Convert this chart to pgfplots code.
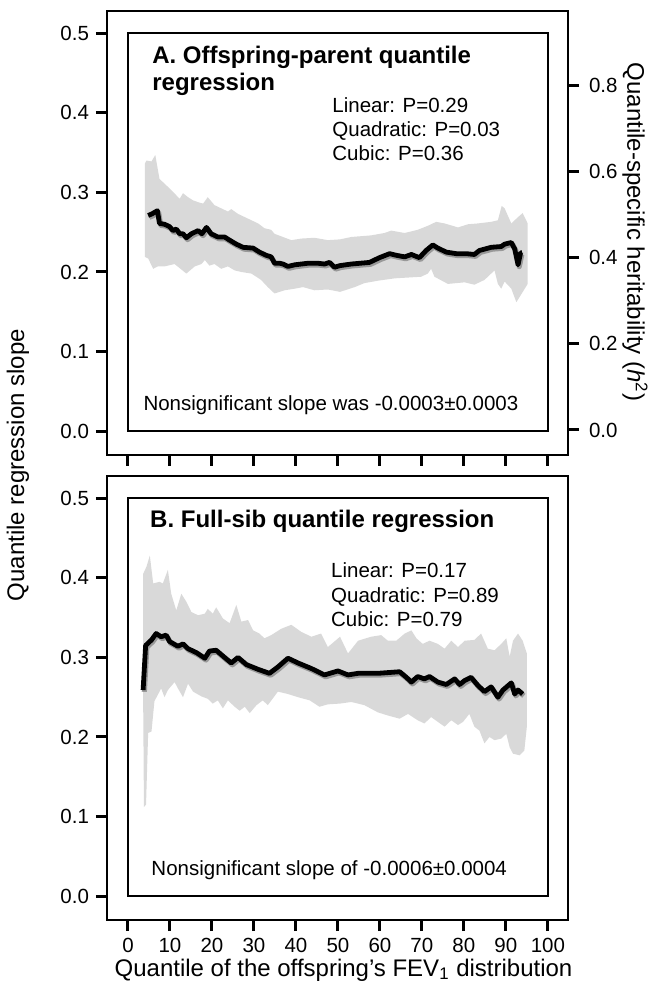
\documentclass[border=0pt]{standalone}
\usepackage{fontspec}
\setmainfont{Liberation Sans}
\usepackage{pgfplots}
\pgfplotsset{compat=1.18}
\usepgfplotslibrary{fillbetween}

\newcommand{\ticksize}{\fontsize{10.25bp}{12bp}\selectfont}
\newcommand{\notesize}{\fontsize{10.25bp}{12bp}\selectfont}
\newcommand{\labsize}{\fontsize{12bp}{14bp}\selectfont}

\pgfplotsset{
  every tick/.style={black, line width=1.5bp},
  panel/.style={
    width=230.5bp, height=222bp, scale only axis,
    xmin=-5, xmax=104.8, ymin=-0.03, ymax=0.528,
    xtick={0,10,20,30,40,50,60,70,80,90,100},
    ytick={0,0.1,0.2,0.3,0.4,0.5},
    tick pos=left, tick align=outside,
    major tick length=5.5bp,
    xtick style={black, line width=1.5bp}, ytick style={black, line width=1.5bp},
    axis line style={line width=1bp},
    tick label style={font=\ticksize},
    /pgf/number format/assume math mode=true,
    yticklabel style={/pgf/number format/fixed, /pgf/number format/fixed zerofill,
                      /pgf/number format/precision=1},
    clip=false,
  },
  band/.style={draw=none, forget plot},
  est/.style={black, line width=2.4bp, line join=round,
              preaction={draw=black!40, line width=2.6bp,
                         transform canvas={shift={(0.6bp,-0.9bp)}}}},
}
\tikzset{
  note/.style={font=\notesize, anchor=mid west, inner sep=0pt},
  ttl/.style={font=\labsize\bfseries, anchor=mid west, inner sep=0pt},
}

\begin{document}
\begin{tikzpicture}
% ---------- A: offspring-parent ----------
\begin{axis}[panel, at={(0,232.5bp)}, xticklabels={}]
\addplot[band, name path=aup] coordinates {
(4.0,0.336)(4.4,0.340)(5.6,0.339)(6.5,0.347)(7.5,0.317)(8.7,0.311)(10.3,0.303)(12.3,0.292)
(13.1,0.299)(14.3,0.294)(15.5,0.290)(17.1,0.287)(17.9,0.286)(19.0,0.294)(20.6,0.284)(22.2,0.280)
(23.8,0.276)(24.6,0.279)(26.2,0.273)(27.8,0.269)(29.4,0.265)(31.0,0.261)(32.5,0.255)(34.1,0.253)
(34.9,0.248)(36.9,0.244)(38.9,0.240)(41.3,0.242)(44.4,0.243)(47.6,0.240)(50.5,0.241)(53.2,0.244)
(57.9,0.246)(61.1,0.249)(62.7,0.252)(65.9,0.249)(69.0,0.253)(71.4,0.258)(73.4,0.263)(75.4,0.261)
(78.6,0.256)(81.0,0.260)(83.3,0.261)(86.5,0.263)(88.1,0.265)(89.0,0.283)(89.7,0.280)(91.3,0.261)
(92.9,0.269)(94.0,0.274)(95.2,0.261)};
\addplot[band, name path=alo] coordinates {
(4.0,0.219)(4.8,0.217)(6.0,0.204)(7.1,0.207)(8.7,0.207)(11.1,0.210)(13.9,0.198)(15.9,0.207)
(17.5,0.210)(18.3,0.215)(19.4,0.208)(20.6,0.210)(22.2,0.204)(23.8,0.207)(25.4,0.202)(27.0,0.200)
(29.4,0.198)(31.7,0.190)(33.3,0.181)(34.9,0.173)(37.3,0.177)(39.7,0.179)(41.7,0.181)(44.4,0.177)
(47.6,0.178)(50.5,0.175)(54.0,0.181)(56.3,0.186)(59.5,0.189)(63.5,0.192)(66.7,0.193)(69.8,0.194)
(71.4,0.198)(72.2,0.204)(73.0,0.194)(76.2,0.185)(80.2,0.187)(82.5,0.184)(84.9,0.190)(87.3,0.202)
(88.1,0.185)(88.9,0.179)(89.7,0.188)(91.3,0.179)(92.5,0.162)(95.2,0.185)};
\addplot[black!15, draw=none] fill between[of=aup and alo];
\draw[line width=1bp] (axis cs:0,0) rectangle (axis cs:100,0.5);
\addplot[est] coordinates {
(4.8,0.271)(5.7,0.273)(7.0,0.277)(7.5,0.261)(8.7,0.260)(9.9,0.257)(10.7,0.252)(11.5,0.254)
(12.3,0.248)(13.1,0.248)(13.9,0.243)(15.1,0.248)(16.7,0.252)(17.6,0.248)(18.7,0.256)(19.8,0.248)
(21.4,0.244)(23.0,0.244)(24.2,0.240)(25.8,0.235)(27.4,0.231)(29.8,0.230)(31.3,0.225)(32.9,0.221)
(34.1,0.219)(34.9,0.211)(36.1,0.211)(36.9,0.210)(38.1,0.207)(39.7,0.209)(42.9,0.211)(45.2,0.211)
(46.8,0.210)(48.0,0.212)(49.2,0.206)(50.5,0.208)(53.2,0.210)(57.5,0.212)(59.9,0.218)(62.3,0.223)
(63.9,0.221)(65.9,0.219)(67.5,0.222)(69.4,0.218)(71.0,0.227)(72.6,0.234)(73.8,0.230)(75.8,0.225)
(78.2,0.223)(80.6,0.223)(82.5,0.222)(83.7,0.227)(86.5,0.231)(88.9,0.232)(89.7,0.235)(91.3,0.237)
(92.1,0.229)(92.9,0.209)(93.5,0.224)(93.8,0.224)};
\node[ttl] at (axis cs:5.7,0.4686) {A. Offspring-parent quantile};
\node[ttl] at (axis cs:5.7,0.4347) {regression};
\node[note] at (axis cs:48.6,0.407) {Linear: P=0.29};
\node[note] at (axis cs:48.6,0.377) {Quadratic: P=0.03};
\node[note] at (axis cs:48.6,0.347) {Cubic: P=0.36};
\node[note] at (axis cs:3.6,0.033) {Nonsignificant slope was -0.0003±0.0003};
\end{axis}

% right-hand heritability scale of panel A
\begin{axis}[width=230.5bp, height=222bp, scale only axis, at={(0,232.5bp)},
  xmin=-5, xmax=104.8, ymin=-0.058, ymax=0.972,
  hide x axis, axis y line*=right,
  ytick={0,0.2,0.4,0.6,0.8}, tick align=outside,
  major tick length=5.5bp, ytick style={black, line width=1.5bp},
  axis line style={line width=1bp},
  tick label style={font=\ticksize},
  /pgf/number format/assume math mode=true,
  yticklabel style={/pgf/number format/fixed, /pgf/number format/fixed zerofill,
                    /pgf/number format/precision=1, xshift=1.5bp}]
\addplot[draw=none, forget plot] coordinates {(0,0) (100,0.8)};
\end{axis}

% ---------- B: full-sib ----------
\begin{axis}[panel, at={(0,0)}]
\addplot[band, name path=bup] coordinates {
(3.6,0.405)(4.4,0.414)(5.2,0.428)(6.0,0.393)(7.5,0.395)(8.3,0.393)(9.5,0.410)(10.3,0.380)
(11.5,0.359)(12.7,0.380)(13.9,0.370)(15.1,0.357)(16.7,0.353)(18.3,0.355)(19.0,0.361)(20.2,0.355)
(21.0,0.363)(22.6,0.349)(24.2,0.343)(25.8,0.366)(27.0,0.345)(28.6,0.347)(29.8,0.334)(31.3,0.330)
(32.5,0.324)(34.1,0.328)(36.5,0.336)(38.9,0.341)(41.3,0.332)(43.7,0.326)(46.0,0.330)(47.6,0.313)
(50.5,0.326)(52.4,0.305)(54.8,0.321)(57.9,0.326)(60.3,0.328)(61.9,0.321)(63.9,0.321)(65.9,0.330)
(67.5,0.334)(68.7,0.324)(70.2,0.317)(71.8,0.321)(73.8,0.317)(75.4,0.311)(77.0,0.321)(78.6,0.313)
(80.2,0.321)(82.5,0.322)(84.1,0.330)(85.7,0.311)(87.3,0.309)(88.9,0.317)(90.1,0.324)(90.9,0.301)
(91.7,0.321)(92.9,0.330)(94.0,0.321)(95.0,0.305)};
\addplot[band, name path=blo] coordinates {
(3.6,0.255)(3.8,0.112)(4.3,0.115)(4.8,0.205)(5.6,0.207)(6.3,0.245)(7.9,0.261)(8.7,0.250)
(9.5,0.259)(11.1,0.269)(11.9,0.261)(13.1,0.250)(14.3,0.267)(15.5,0.257)(17.5,0.251)(19.0,0.248)
(20.2,0.242)(21.4,0.246)(22.6,0.236)(23.8,0.246)(25.4,0.238)(26.6,0.233)(27.8,0.238)(29.0,0.230)
(30.6,0.240)(32.1,0.246)(33.3,0.240)(35.7,0.257)(38.1,0.254)(40.5,0.250)(43.3,0.246)(45.6,0.238)
(47.6,0.241)(50.5,0.242)(53.2,0.244)(56.3,0.240)(59.5,0.231)(61.9,0.227)(64.7,0.223)(66.7,0.229)
(69.0,0.221)(70.6,0.217)(72.2,0.225)(73.8,0.219)(75.4,0.213)(77.0,0.221)(78.6,0.215)(79.8,0.219)
(81.3,0.229)(82.5,0.213)(83.7,0.208)(84.9,0.192)(86.1,0.200)(87.3,0.196)(88.9,0.198)(90.1,0.204)
(90.9,0.187)(91.7,0.179)(93.3,0.177)(94.4,0.183)(95.0,0.213)};
\addplot[black!15, draw=none] fill between[of=bup and blo];
\draw[line width=1bp] (axis cs:0,0) rectangle (axis cs:100,0.5);
\addplot[est] coordinates {
(3.6,0.259)(4.2,0.315)(5.6,0.322)(6.7,0.330)(7.9,0.326)(9.1,0.328)(9.9,0.320)(11.9,0.314)
(13.1,0.317)(14.3,0.311)(16.3,0.306)(18.3,0.299)(19.4,0.308)(21.0,0.309)(23.0,0.300)(24.6,0.293)
(26.2,0.300)(28.2,0.291)(31.0,0.285)(33.7,0.280)(35.7,0.288)(38.1,0.299)(40.5,0.293)(43.7,0.286)
(46.8,0.278)(50.0,0.283)(52.4,0.278)(54.8,0.280)(59.5,0.280)(64.7,0.282)(66.3,0.275)(67.5,0.269)
(69.0,0.276)(70.6,0.273)(71.8,0.276)(73.8,0.269)(75.8,0.266)(77.8,0.273)(79.0,0.266)(80.2,0.271)
(81.7,0.275)(83.3,0.265)(84.9,0.257)(86.5,0.263)(88.1,0.250)(89.3,0.259)(91.3,0.268)(92.1,0.254)
(92.9,0.259)(94.0,0.254)};
\node[ttl] at (axis cs:5.2,0.470) {B. Full-sib quantile regression};
\node[note] at (axis cs:48.3,0.407) {Linear: P=0.17};
\node[note] at (axis cs:48.3,0.376) {Quadratic: P=0.89};
\node[note] at (axis cs:48.3,0.345) {Cubic: P=0.79};
\node[note] at (axis cs:5.5,0.033) {Nonsignificant slope of -0.0006±0.0004};
\end{axis}

% shared axis titles
\node[font=\labsize, rotate=90] at (-44.5bp,227.5bp) {Quantile regression slope};
\node[font=\labsize, rotate=-90] at (264bp,344bp) {Quantile-specific heritability (\textit{h}\textsuperscript{2})};
\node[font=\labsize] at (118.25bp,-25bp) {Quantile of the offspring’s FEV\textsubscript{1} distribution};
% page frame with the reference's proportions
\path (-53.5bp,-34.5bp) rectangle (272.5bp,460bp);
\end{tikzpicture}
\end{document}
